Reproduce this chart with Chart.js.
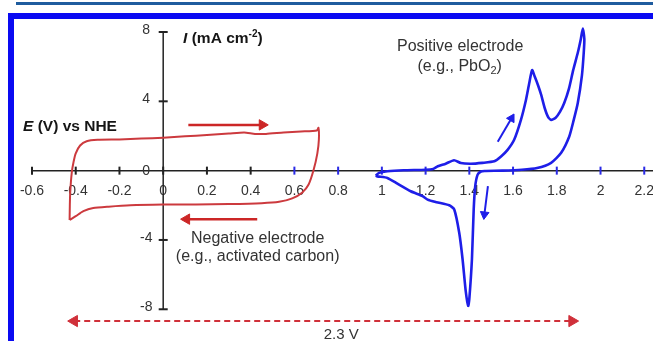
<!DOCTYPE html>
<html>
<head>
<meta charset="utf-8">
<script src="https://cdn.jsdelivr.net/npm/chart.js@4.4.0/dist/chart.umd.min.js"></script>
<style>
  html, body { margin: 0; padding: 0; background: #fff; }
  #wrap { position: relative; width: 653px; height: 341px; overflow: hidden; }
  #topline { position: absolute; left: 16px; top: 2px; right: 0; height: 3px; background: #1f5c9e; }
  #frame { position: absolute; left: 8px; top: 13px; width: 700px; height: 400px;
           border-left: 6px solid #0a0af2; border-top: 6px solid #0a0af2; }
  canvas { position: absolute; left: 0; top: 0; }
</style>
</head>
<body>
<div id="wrap">
  <div id="topline"></div>
  <div id="frame"></div>
  <canvas id="cv-chart" width="653" height="341"></canvas>
</div>
<script>
// axis ticks
const eTicks = [-0.6, -0.4, -0.2, 0, 0.2, 0.4, 0.6, 0.8, 1, 1.2, 1.4, 1.6, 1.8, 2, 2.2];
const iTicks = [-8, -4, 0, 4, 8];

// negative electrode (activated carbon) CV loop, E in V vs NHE, I in mA cm-2
const carbonE = [-0.428, -0.427, -0.425, -0.418, -0.41, -0.4, -0.38, -0.35, -0.3, -0.2, -0.1, 0, 0.1, 0.2, 0.3, 0.37, 0.42, 0.47, 0.55, 0.63, 0.703, 0.71,
                 0.712, 0.705, 0.688, 0.665, 0.635, 0.59, 0.53, 0.45, 0.3, 0.15, 0, -0.15, -0.25, -0.32, -0.365, -0.4, -0.428];
const carbonI = [-2.85, -2.0, -1.2, -0.1, 0.5, 1.0, 1.45, 1.7, 1.78, 1.8, 1.85, 1.9, 1.98, 2.06, 2.14, 2.2, 2.12, 2.12, 2.2, 2.26, 2.32, 2.47,
                 1.8, 1.0, 0.05, -0.8, -1.27, -1.6, -1.8, -1.88, -1.93, -1.95, -1.96, -2.0, -2.08, -2.16, -2.34, -2.63, -2.85];

// positive electrode (PbO2) CV loop
const pbo2E = [0.972, 0.987, 1.025, 1.1, 1.2, 1.235, 1.256, 1.292, 1.33, 1.361, 1.407, 1.46, 1.514, 1.545, 1.575, 1.605, 1.636, 1.659, 1.674, 1.687,
               1.7, 1.715, 1.728, 1.745, 1.76, 1.774, 1.795, 1.815, 1.834, 1.855, 1.875, 1.896, 1.91, 1.919, 1.926, 1.923, 1.915, 1.896, 1.877, 1.857, 1.82, 1.774, 1.71, 1.64, 1.55,
               1.47, 1.453, 1.438, 1.427, 1.42, 1.412, 1.4, 1.395, 1.384, 1.369, 1.354, 1.331, 1.308, 1.25, 1.209, 1.186, 1.132, 1.071, 1.025, 0.979, 0.972];
const pbo2I = [-0.29, -0.13, -0.04, 0.02, 0.05, 0.1, 0.25, 0.4, 0.6, 0.44, 0.4, 0.45, 0.54, 0.82, 1.2, 1.78, 2.93, 4.08, 5.04, 5.8,
               5.4, 4.9, 4.4, 3.6, 3.1, 2.93, 3.05, 3.4, 3.9, 4.7, 5.8, 6.8, 7.6, 8.2, 7.6, 6.76, 5.5, 3.9, 2.9, 1.97, 1.03, 0.45, 0.15, 0.05, 0.0,
               -0.02, -0.05, -0.23, -0.9, -2.24, -5.1, -7.4, -7.8, -7.0, -5.1, -3.6, -2.24, -2.0, -1.82, -1.67, -1.47, -1.19, -0.75, -0.42, -0.33, -0.29];

// sweep-direction arrows: start point, arrowhead point
const carbonFwdE = [0.115, 0.453], carbonFwdI = [2.64, 2.64];
const carbonRevE = [0.43, 0.107], carbonRevI = [-2.8, -2.8];
const pbo2FwdE = [1.53, 1.593], pbo2FwdI = [1.67, 3.02];
const pbo2RevE = [1.485, 1.469], pbo2RevI = [-0.9, -2.53];
// cell voltage window
const windowE = [-0.407, 1.87], windowI = [-8.68, -8.68];

const RED = '#cc3a3e';
const ARROW_RED = '#cc2626';
const BLUE = '#1e1ee8';
const AXIS = '#222';
const FONT = "Arial, 'Liberation Sans', sans-serif";

Chart.defaults.font.family = FONT;

const pts = (xs, ys) => xs.map((x, i) => ({x: x, y: ys[i]}));

function arrow(xs, ys, color, angle, r, width, dash) {
    return {
        data: pts(xs, ys),
        showLine: true,
        borderColor: color,
        backgroundColor: color,
        borderWidth: width,
        borderDash: dash || [],
        pointStyle: 'triangle',
        pointRadius: [0, r],
        rotation: [0, angle],
        pointBorderWidth: 1,
        pointBorderColor: color,
        clip: false
    };
}

const windowArrow = arrow(windowE, windowI, '#d0303a', 90, 6.5, 2, [6, 4]);
windowArrow.pointRadius = [6.5, 6.5];
windowArrow.rotation = [-90, 90];

// y axis line (only between -8 and 8) and tick marks crossing both axes
const crossTicks = {
    id: 'crossTicks',
    beforeDatasetsDraw(chart) {
        const {ctx, scales: {x, y}} = chart;
        const x0 = x.getPixelForValue(0);
        const y0 = y.getPixelForValue(0);
        ctx.save();
        ctx.strokeStyle = AXIS;
        ctx.lineWidth = 1.5;
        ctx.beginPath();
        ctx.moveTo(x0, y.getPixelForValue(8));
        ctx.lineTo(x0, y.getPixelForValue(-8));
        ctx.stroke();
        ctx.lineWidth = 2;
        x.ticks.forEach(t => {
            const px = x.getPixelForValue(t.value);
            ctx.strokeStyle = t.value > 0.5 ? '#2a2ae6' : AXIS;
            ctx.beginPath();
            ctx.moveTo(px, y0 - 4);
            ctx.lineTo(px, y0 + 4);
            ctx.stroke();
        });
        ctx.strokeStyle = AXIS;
        y.ticks.forEach(t => {
            if (t.value === 0) return;
            const py = y.getPixelForValue(t.value);
            ctx.beginPath();
            ctx.moveTo(x0 - 4.5, py);
            ctx.lineTo(x0 + 4.5, py);
            ctx.stroke();
        });
        // current tick labels, centred left of the axis
        ctx.fillStyle = '#333';
        ctx.font = '14px ' + FONT;
        ctx.textAlign = 'center';
        ctx.textBaseline = 'middle';
        y.ticks.forEach(t => {
            ctx.fillText(String(t.value), x0 - 17, y.getPixelForValue(t.value) + (t.value === 0 ? 1 : -2));
        });
        ctx.restore();
    }
};

function drawRuns(ctx, runs, x, y, align) {
    let w = 0;
    runs.forEach(r => { ctx.font = r.font; r.w = ctx.measureText(r.text).width; w += r.w; });
    let cx = align === 'center' ? x - w / 2 : x;
    ctx.textAlign = 'left';
    ctx.textBaseline = 'middle';
    runs.forEach(r => {
        ctx.font = r.font;
        ctx.fillText(r.text, cx, y + (r.dy || 0));
        cx += r.w;
    });
}

const big = 'bold 15.5px ' + FONT;
const note = '16px ' + FONT;
const notes = [
    {v: 0.091, i: 7.6, align: 'left', color: '#151515', runs: [
        {text: 'I', font: 'italic ' + big}, {text: ' (mA cm', font: big},
        {text: '-2', font: 'bold 10px ' + FONT, dy: -5}, {text: ')', font: big}]},
    {v: -0.641, i: 2.51, align: 'left', color: '#151515', runs: [
        {text: 'E', font: 'italic ' + big}, {text: ' (V) vs NHE', font: big}]},
    {v: 1.358, i: 7.13, align: 'center', color: '#333', runs: [{text: 'Positive electrode', font: note}]},
    {v: 1.356, i: 5.98, align: 'center', color: '#333', runs: [
        {text: '(e.g., PbO', font: note}, {text: '2', font: '11px ' + FONT, dy: 4}, {text: ')', font: note}]},
    {v: 0.432, i: -3.9, align: 'center', color: '#333', runs: [{text: 'Negative electrode', font: note}]},
    {v: 0.432, i: -4.94, align: 'center', color: '#333', runs: [{text: '(e.g., activated carbon)', font: note}]},
    {v: 0.814, i: -9.45, align: 'center', color: '#333', runs: [{text: '2.3 V', font: '15px ' + FONT}]}
];

const labels = {
    id: 'labels',
    afterDraw(chart) {
        const {ctx, scales: {x, y}} = chart;
        ctx.save();
        notes.forEach(n => {
            ctx.fillStyle = n.color;
            drawRuns(ctx, n.runs, x.getPixelForValue(n.v), y.getPixelForValue(n.i), n.align);
        });
        ctx.restore();
    }
};

const ctx = document.getElementById('cv-chart').getContext('2d');

new Chart(ctx, {
    type: 'scatter',
    data: {
        datasets: [
            {data: pts(carbonE, carbonI), showLine: true, borderColor: RED, borderWidth: 2, pointRadius: 0, tension: 0.2, clip: false},
            {data: pts(pbo2E, pbo2I), showLine: true, borderColor: BLUE, borderWidth: 2.6, pointRadius: 0, tension: 0.2, clip: false},
            arrow(carbonFwdE, carbonFwdI, ARROW_RED, 90, 6, 2.5),
            arrow(carbonRevE, carbonRevI, ARROW_RED, -90, 6, 2.5),
            arrow(pbo2FwdE, pbo2FwdI, BLUE, 30, 5, 2),
            arrow(pbo2RevE, pbo2RevI, BLUE, 187, 5, 2),
            windowArrow
        ]
    },
    options: {
        responsive: false,
        animation: false,
        events: [],
        layout: {autoPadding: false, padding: {left: 32, right: 0, top: 32, bottom: 4}},
        plugins: {legend: {display: false}, tooltip: {enabled: false}},
        scales: {
            x: {
                type: 'linear',
                position: {y: 0},
                min: -0.6,
                max: 2.24,
                afterBuildTicks(scale) { scale.ticks = eTicks.map(v => ({value: v})); },
                afterFit(scale) { scale.paddingLeft = 0; scale.paddingRight = 0; },
                border: {color: AXIS, width: 1.5},
                grid: {drawOnChartArea: false, drawTicks: false},
                ticks: {
                    autoSkip: false,
                    maxRotation: 0,
                    padding: 12,
                    color: '#333',
                    font: {size: 14},
                    callback: v => String(v)
                }
            },
            y: {
                type: 'linear',
                position: {x: 0},
                min: -9.6,
                max: 8,
                afterBuildTicks(scale) { scale.ticks = iTicks.map(v => ({value: v})); },
                border: {display: false},
                grid: {drawOnChartArea: false, drawTicks: false},
                ticks: {display: false}
            }
        }
    },
    plugins: [crossTicks, labels]
});
</script>
</body>
</html>
